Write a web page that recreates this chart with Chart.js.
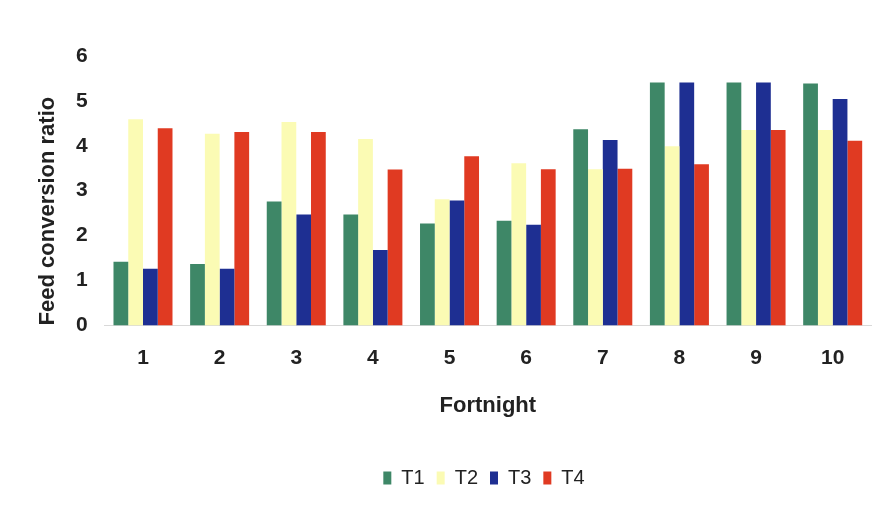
<!DOCTYPE html>
<html>
<head>
<meta charset="utf-8">
<script src="https://cdn.jsdelivr.net/npm/chart.js@4/dist/chart.umd.min.js"></script>
<style>
  html, body { margin: 0; padding: 0; background: #fff; }
  #wrap { width: 874px; height: 505px; }
</style>
</head>
<body>
<div id="wrap"><canvas id="c" width="874" height="505"></canvas></div>
<script>
const categories = ["1", "2", "3", "4", "5", "6", "7", "8", "9", "10"];
const seriesNames = ["T1", "T2", "T3", "T4"];
const t1 = [1.42, 1.37, 2.76, 2.47, 2.27, 2.33, 4.37, 5.41, 5.41, 5.39];
const t2 = [4.59, 4.27, 4.53, 4.15, 2.81, 3.61, 3.48, 3.99, 4.35, 4.35];
const t3 = [1.26, 1.26, 2.47, 1.68, 2.78, 2.24, 4.13, 5.41, 5.41, 5.04];
const t4 = [4.39, 4.31, 4.31, 3.47, 3.77, 3.48, 3.49, 3.59, 4.35, 4.11];
const yTicks = [0, 1, 2, 3, 4, 5, 6];

const colors = ["#3e8767", "#fbfbb4", "#1e2f92", "#e03a22"];
const FONT = "'Liberation Sans', Arial, sans-serif";

const seriesValues = [t1, t2, t3, t4];
const datasets = seriesNames.map((name, i) => ({
  label: name,
  data: seriesValues[i],
  backgroundColor: colors[i],
  borderWidth: 0,
  categoryPercentage: 0.77,
  barPercentage: 1.0
}));

// shift the legend block to the right (the reference legend sits right of centre)
const legendShift = {
  id: 'legendShift',
  afterLayout(chart) {
    if (chart.legend) { chart.legend.left += 60; }
  }
};

new Chart(document.getElementById('c'), {
  type: 'bar',
  data: { labels: categories, datasets },
  plugins: [legendShift],
  options: {
    responsive: false,
    animation: false,
    devicePixelRatio: 1,
    layout: { padding: { top: 56, left: 37, right: 3, bottom: 7 } },
    plugins: {
      tooltip: { enabled: false },
      legend: {
        position: 'bottom',
        labels: {
          color: '#222',
          font: { family: FONT, size: 20 },
          boxWidth: 8,
          boxHeight: 13,
          padding: 12
        }
      }
    },
    scales: {
      x: {
        grid: { display: false, drawTicks: false },
        border: { display: true, color: '#d9d9d9', width: 1 },
        ticks: { color: '#222', font: { family: FONT, size: 21, weight: 'bold' }, padding: 20 },
        title: {
          display: true, text: 'Fortnight', color: '#222',
          font: { family: FONT, size: 22, weight: 'bold' },
          padding: { top: 2, bottom: 37 }
        }
      },
      y: {
        min: 0, max: 6,
        afterBuildTicks: (axis) => { axis.ticks = yTicks.map(v => ({ value: v })); },
        grid: { display: false, drawTicks: false },
        border: { display: false },
        ticks: { color: '#222', font: { family: FONT, size: 21, weight: 'bold' }, padding: 17 },
        title: {
          display: true, text: 'Feed conversion ratio', color: '#222', align: 'start',
          font: { family: FONT, size: 22, weight: 'bold', lineHeight: 1 },
          padding: { top: 0, bottom: 0 }
        }
      }
    }
  }
});
</script>
</body>
</html>
